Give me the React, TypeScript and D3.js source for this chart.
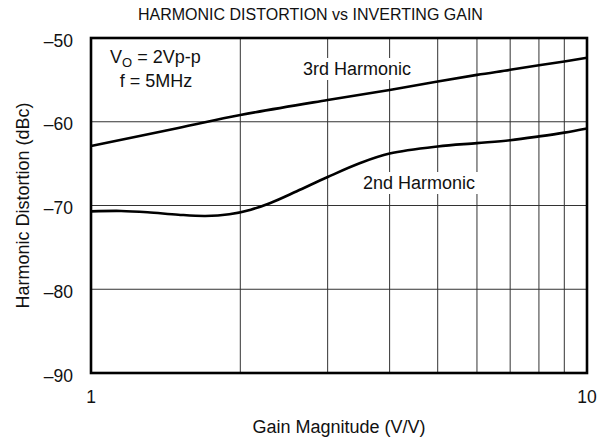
import React from "react";
import * as d3 from "d3";

const xTicks = [1, 10];
const xGrid = [2, 3, 4, 5, 6, 7, 8, 9];
const yTicks = [-50, -60, -70, -80, -90];

const gain3 = [1, 1.5, 2, 3, 4, 5, 6, 7, 8, 9, 10];
const harm3 = [-62.9, -60.75, -59.2, -57.4, -56.2, -55.2, -54.4, -53.8, -53.25, -52.8, -52.35];

const gain2 = [1, 1.15, 1.3, 1.5, 1.7, 1.9, 2.1, 2.3, 2.6, 3, 3.5, 4, 5, 6, 7, 8, 9, 10];
const harm2 = [-70.7, -70.65, -70.8, -71.1, -71.25, -71.05, -70.5, -69.7, -68.3, -66.6, -64.9, -63.8, -62.95, -62.55, -62.2, -61.75, -61.3, -60.8];

const FONT = "'Liberation Sans', Arial, Helvetica, sans-serif";

export default function App() {
  const W = 613, H = 441;
  const left = 91, right = 587, top = 38, bottom = 373;
  const x = d3.scaleLog().domain([1, 10]).range([left, right]);
  const y = d3.scaleLinear().domain([-90, -50]).range([bottom, top]);
  const line = d3
    .line<[number, number]>()
    .x((d) => x(d[0]))
    .y((d) => y(d[1]))
    .curve(d3.curveCatmullRom.alpha(0.5));
  const d3path = line(gain3.map((g, i) => [g, harm3[i]]) as [number, number][]) || "";
  const d2path = line(gain2.map((g, i) => [g, harm2[i]]) as [number, number][]) || "";

  return (
    <svg width={W} height={H} style={{ position: "absolute", left: 0, top: 0, background: "#fff" }} fontFamily={FONT}>
      <rect x={0} y={0} width={W} height={H} fill="#fff" />
      <text x={138} y={20} fontSize={16} fill="#111">HARMONIC DISTORTION vs INVERTING GAIN</text>
      {/* grid */}
      {xGrid.map((g) => (
        <line key={"gx" + g} x1={x(g)} x2={x(g)} y1={top} y2={bottom} stroke="#333" strokeWidth={1} />
      ))}
      {yTicks.slice(1, -1).map((v) => (
        <line key={"gy" + v} x1={left} x2={right} y1={y(v)} y2={y(v)} stroke="#333" strokeWidth={1} />
      ))}
      {/* label backgrounds */}
      <rect x={300} y={58} width={116} height={22} fill="#fff" />
      <rect x={360} y={172} width={118} height={22} fill="#fff" />
      <text x={303} y={75} fontSize={18} fill="#111">3rd Harmonic</text>
      <text x={363} y={189} fontSize={18} fill="#111">2nd Harmonic</text>
      {/* curves */}
      <path d={d3path} fill="none" stroke="#000" strokeWidth={2.6} />
      <path d={d2path} fill="none" stroke="#000" strokeWidth={2.6} />
      {/* border */}
      <rect x={left} y={top} width={right - left} height={bottom - top} fill="none" stroke="#000" strokeWidth={2.6} />
      {/* annotations */}
      <text x={110} y={63} fontSize={18} fill="#111">
        V<tspan fontSize={13} dy={4}>O</tspan>
        <tspan dy={-4}> = 2Vp-p</tspan>
      </text>
      <text x={156} y={87} fontSize={18} fill="#111" textAnchor="middle">f = 5MHz</text>
      {/* y ticks */}
      {yTicks.map((v) => (
        <text key={"yt" + v} x={73} y={y(v) + 8.5} fontSize={17.5} textAnchor="end" fill="#111">
          {"\u2013" + Math.abs(v)}
        </text>
      ))}
      {xTicks.map((v) => (
        <text key={"xt" + v} x={x(v)} y={403} fontSize={17.5} textAnchor="middle" fill="#111">
          {v}
        </text>
      ))}
      <text x={(left + right) / 2} y={433} fontSize={18} textAnchor="middle" fill="#111">Gain Magnitude (V/V)</text>
      <text
        transform={`translate(29, ${(top + bottom) / 2}) rotate(-90)`}
        fontSize={18}
        textAnchor="middle"
        fill="#111"
      >
        Harmonic Distortion (dBc)
      </text>
    </svg>
  );
}
